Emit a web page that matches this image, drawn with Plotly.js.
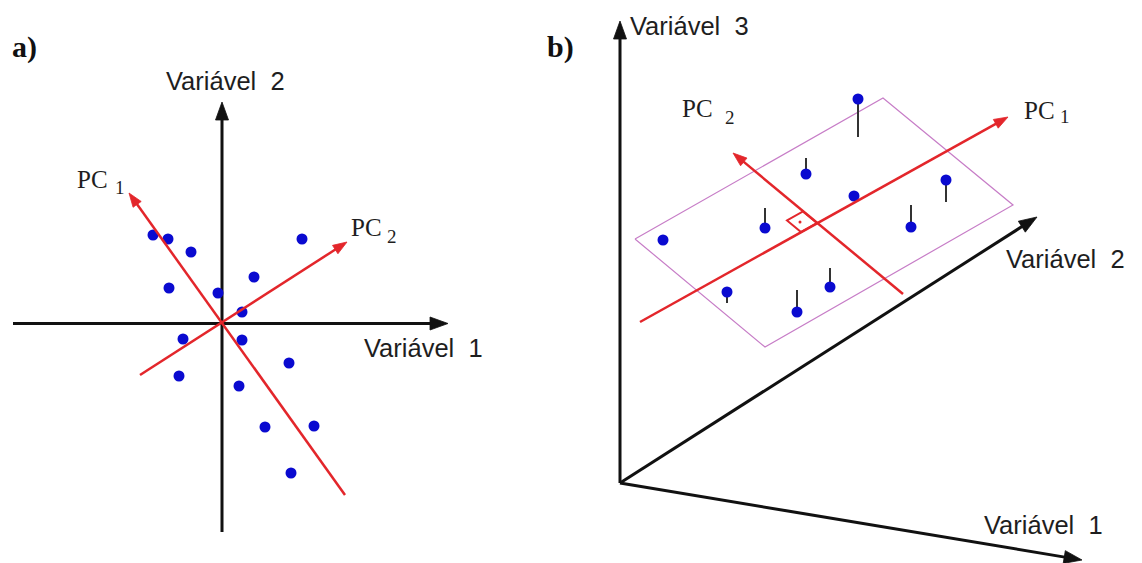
<!DOCTYPE html>
<html>
<head>
<meta charset="utf-8">
<script src="https://cdn.plot.ly/plotly-3.0.1.min.js"></script>
<style>html,body{margin:0;padding:0;background:#fff;}#chart{width:1142px;height:563px;}</style>
</head>
<body>
<div id="chart"></div>
<script>
// ---------- Panel a data (drawing units, y grows downward) ----------
const aPointsX = [153, 168, 191, 302, 254, 169, 218, 242, 183, 242, 289, 179, 239, 265, 314, 291];
const aPointsY = [235, 239, 252, 239, 277, 288, 293, 312, 339, 340, 363, 376, 386, 427, 426, 473];
// axis vectors: [tailX, tailY, headX, headY]
const aVar1 = [13, 323.5, 448, 323.5];
const aVar2 = [222, 532, 222, 102];
const aPC1 = [345, 495, 129, 193];
const aPC2 = [140, 375, 347, 242];

// ---------- Panel b data ----------
const bPointsX = [858, 806, 854, 946, 765, 663, 911, 727, 830, 797];
const bPointsY = [99, 174, 196, 180, 228, 240, 227, 292, 287, 312];
const bStemEndY = [137, 158, null, 202, 208, null, 205, 303, 268, 290];
const bVar3 = [620, 483, 620, 21];
const bVar2 = [620, 483, 1037, 217];
const bVar1 = [620, 483, 1082, 560];
const bPC1 = [640, 322, 1008, 117];
const bPC2 = [903, 294, 733, 153];
const bPlaneX = [635, 883, 1013, 765, 635];
const bPlaneY = [239, 98, 205, 347, 239];
const bRightAngleX = [817, 803, 787, 801];
const bRightAngleY = [223, 211.5, 220.5, 232];
const bRightDot = [800, 222];

// ---------- labels ----------
const panelLabels = ['a)', 'b)'];
const varLabels = ['Variável\u00a0\u00a01', 'Variável\u00a0\u00a02', 'Variável\u00a0\u00a03'];
const pcMain = 'PC';
const pcIndex = ['1', '2'];

const BLACK = '#111111', RED = '#e3262b', BLUE = '#0a0ad0', MAG = '#c77dc7', STEM = '#333333';

// arrow = shaft line + filled triangular head derived from the vector
function arrowTraces(v, color, width, L, W) {
  const dx = v[2] - v[0], dy = v[3] - v[1];
  const len = Math.hypot(dx, dy);
  const ux = dx / len, uy = dy / len;
  const bx = v[2] - L * ux, by = v[3] - L * uy;
  const nx = -uy * W / 2, ny = ux * W / 2;
  return [
    {x: [v[0], bx + 2 * ux], y: [v[1], by + 2 * uy], mode: 'lines', type: 'scatter', hoverinfo: 'skip',
      showlegend: false, line: {color: color, width: width}},
    {x: [v[2], bx + nx, bx - nx, v[2]], y: [v[3], by + ny, by - ny, v[3]], mode: 'lines', type: 'scatter',
      fill: 'toself', fillcolor: color, hoverinfo: 'skip', showlegend: false, line: {color: color, width: 0.8},
      cliponaxis: false}
  ];
}

let traces = [];
// plane
traces.push({x: bPlaneX, y: bPlaneY, mode: 'lines', type: 'scatter', hoverinfo: 'skip', showlegend: false,
  line: {color: MAG, width: 1.2}});
// axes
[aVar1, aVar2, bVar3, bVar2, bVar1].forEach(v => { traces = traces.concat(arrowTraces(v, BLACK, 3, 18, 13)); });
// stems
const sx = [], sy = [];
bPointsX.forEach((x, i) => {
  if (bStemEndY[i] !== null) { sx.push(x, x, null); sy.push(bPointsY[i], bStemEndY[i], null); }
});
traces.push({x: sx, y: sy, mode: 'lines', type: 'scatter', hoverinfo: 'skip', showlegend: false,
  line: {color: STEM, width: 2}});
// points
traces.push({x: aPointsX, y: aPointsY, mode: 'markers', type: 'scatter', hoverinfo: 'skip', showlegend: false,
  marker: {color: BLUE, size: 11}});
traces.push({x: bPointsX, y: bPointsY, mode: 'markers', type: 'scatter', hoverinfo: 'skip', showlegend: false,
  marker: {color: BLUE, size: 11}});
// red PCs
[aPC1, aPC2, bPC1, bPC2].forEach(v => { traces = traces.concat(arrowTraces(v, RED, 2.5, 14, 10)); });
// right angle
traces.push({x: bRightAngleX.concat([bRightAngleX[0]]), y: bRightAngleY.concat([bRightAngleY[0]]),
  mode: 'lines', type: 'scatter', hoverinfo: 'skip', showlegend: false, line: {color: RED, width: 2}});
traces.push({x: [bRightDot[0]], y: [bRightDot[1]], mode: 'markers', type: 'scatter', hoverinfo: 'skip',
  showlegend: false, marker: {color: RED, size: 3}});

const sans = {family: 'Liberation Sans, Arial, sans-serif', size: 25.5, color: '#1e1e1e'};
const serif = {family: 'Liberation Serif, Times New Roman, serif', size: 25, color: '#1e1e1e'};
const serifSub = {family: 'Liberation Serif, Times New Roman, serif', size: 19, color: '#1e1e1e'};
const bold = {family: 'Liberation Serif, Times New Roman, serif', size: 30, color: '#111', weight: 'bold'};

function lab(text, x, y, font) {
  return {text: text, x: x, y: y, xref: 'x', yref: 'y', showarrow: false, font: font,
    xanchor: 'left', yanchor: 'middle'};
}

const annotations = [
  lab('<b>' + panelLabels[0] + '</b>', 10, 47, bold),
  lab('<b>' + panelLabels[1] + '</b>', 545, 47, bold),
  lab(varLabels[1], 164, 81, sans),
  lab(varLabels[0], 362, 348, sans),
  lab(pcMain, 75, 179, serif), lab(pcIndex[0], 113, 187, serifSub),
  lab(pcMain, 349, 227, serif), lab(pcIndex[1], 385, 236, serifSub),
  lab(varLabels[2], 628, 26, sans),
  lab(pcMain, 680, 108, serif), lab(pcIndex[1], 723, 117, serifSub),
  lab(pcMain, 1022, 110, serif), lab(pcIndex[0], 1058, 116, serifSub),
  lab(varLabels[1], 1004, 259, sans),
  lab(varLabels[0], 982, 525, sans)
];

const layout = {
  width: 1142, height: 563,
  margin: {l: 0, r: 0, t: 0, b: 0},
  paper_bgcolor: '#fff', plot_bgcolor: '#fff',
  xaxis: {range: [0, 1142], visible: false, fixedrange: true},
  yaxis: {range: [563, 0], visible: false, fixedrange: true},
  annotations: annotations,
  showlegend: false
};

Plotly.newPlot('chart', traces, layout, {staticPlot: true, displayModeBar: false});
</script>
</body>
</html>
